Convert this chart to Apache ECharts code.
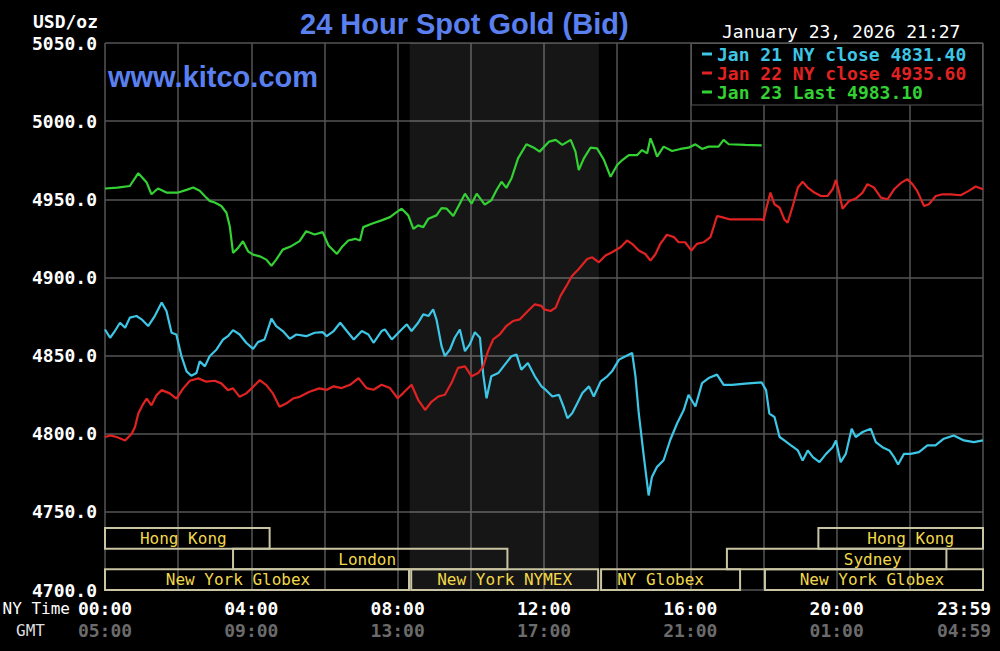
<!DOCTYPE html>
<html><head><meta charset="utf-8">
<script src="https://cdn.jsdelivr.net/npm/echarts@6/dist/echarts.min.js"></script>
<style>html,body{margin:0;padding:0;background:#000;}#c{width:1000px;height:651px;}</style>
</head><body><div id="c"></div>
<script>
// ---- data (hours NY time, USD/oz) ----
const cyanHours = [0.00,0.14,0.27,0.41,0.55,0.68,0.86,1.00,1.18,1.36,1.55,1.68,1.82,1.95,2.09,2.23,2.36,2.50,2.59,2.73,2.86,3.05,3.23,3.36,3.50,3.68,3.86,4.05,4.18,4.36,4.55,4.68,4.86,5.05,5.23,5.50,5.73,5.95,
6.06,6.25,6.43,6.61,6.80,7.02,7.20,7.34,7.56,7.65,7.84,8.02,8.25,8.38,8.56,8.70,8.84,8.97,9.06,9.20,9.29,9.43,9.56,9.70,9.84,9.97,10.11,10.25,10.34,10.43,10.56,10.75,10.93,11.11,11.25,11.38,11.56,11.75,11.93,
12.05,12.23,12.41,12.55,12.64,12.77,12.91,13.05,13.23,13.36,13.55,13.73,13.86,14.05,14.23,14.41,14.50,14.59,14.73,14.86,14.95,15.09,15.27,15.45,15.64,15.82,15.95,16.14,16.32,16.50,16.73,16.91,17.14,17.50,17.95,
18.07,18.16,18.30,18.44,18.57,18.75,18.94,19.07,19.21,19.35,19.53,19.71,19.89,19.98,20.11,20.25,20.41,20.52,20.71,20.93,21.07,21.25,21.44,21.57,21.68,21.84,22.02,22.25,22.48,22.70,22.93,23.20,23.48,23.75,24.00];
const cyanPrices = [4866.7,4861.4,4865.7,4871.0,4867.8,4874.3,4875.3,4873.2,4868.9,4875.3,4883.9,4878.5,4864.6,4863.5,4849.6,4839.9,4837.1,4838.8,4846.4,4843.1,4849.6,4853.9,4860.3,4862.4,4866.3,4863.5,4858.2,4854.3,4858.6,4860.3,4873.6,4868.9,4865.7,4860.7,4863.5,4862.4,4864.6,4865.0,
4862.4,4865.7,4871.0,4865.7,4860.3,4865.7,4863.5,4858.2,4865.7,4866.7,4860.3,4864.6,4870.0,4865.7,4871.0,4876.4,4875.3,4879.6,4873.2,4856.0,4849.6,4853.9,4861.4,4866.7,4852.8,4857.1,4865.0,4861.4,4837.8,4822.7,4836.7,4838.8,4844.2,4849.6,4850.6,4841.0,4845.3,4836.7,4830.3,
4828.0,4823.8,4824.9,4816.3,4809.9,4813.1,4819.5,4826.0,4830.3,4823.8,4833.5,4836.7,4839.9,4847.4,4849.6,4851.7,4836.7,4813.1,4785.2,4760.5,4772.3,4778.8,4783.0,4796.0,4806.7,4815.2,4824.9,4817.4,4832.4,4835.6,4837.8,4831.3,4831.3,4832.0,4832.8,
4827.9,4812.9,4810.7,4797.9,4795.7,4792.5,4789.3,4782.8,4789.3,4785.0,4781.8,4787.1,4791.4,4795.7,4781.8,4787.1,4803.2,4797.9,4801.1,4803.2,4794.6,4791.4,4789.3,4785.0,4780.3,4787.1,4787.1,4788.2,4792.5,4792.5,4796.8,4798.9,4795.7,4794.6,4795.7];

const redHours = [0.00,0.14,0.32,0.55,0.73,0.82,0.91,1.05,1.14,1.27,1.41,1.55,1.77,1.95,2.14,2.32,2.55,2.77,3.00,3.18,3.36,3.50,3.68,3.86,4.05,4.23,4.41,4.59,4.77,4.95,5.14,5.32,5.59,5.86,
6.06,6.25,6.47,6.70,6.93,7.15,7.34,7.56,7.79,8.00,8.15,8.38,8.56,8.75,8.93,9.11,9.29,9.47,9.65,9.84,10.02,10.20,10.34,10.47,10.61,10.79,10.97,11.15,11.34,11.56,11.75,11.93,
12.00,12.18,12.32,12.45,12.59,12.77,12.95,13.18,13.32,13.50,13.68,13.86,14.09,14.27,14.41,14.59,14.77,14.91,15.05,15.18,15.36,15.55,15.68,15.86,16.03,16.18,16.36,16.55,16.73,16.86,17.09,17.95,
18.00,18.07,18.19,18.30,18.44,18.57,18.66,18.80,18.94,19.07,19.21,19.39,19.57,19.75,19.89,19.98,20.07,20.16,20.34,20.52,20.71,20.84,21.02,21.21,21.39,21.57,21.75,21.93,22.07,22.20,22.39,22.52,22.71,22.89,23.11,23.39,23.61,23.80,24.00];
const redPrices = [4797.9,4798.9,4797.9,4795.7,4800.0,4804.3,4812.9,4819.3,4822.5,4818.2,4824.7,4827.9,4825.8,4822.5,4829.0,4833.9,4835.4,4833.3,4833.9,4832.2,4827.9,4829.0,4823.6,4825.8,4830.0,4834.3,4831.1,4825.8,4817.2,4819.3,4822.5,4823.6,4826.8,4829.0,
4828.1,4830.3,4829.2,4831.3,4835.6,4829.2,4828.1,4831.3,4829.2,4822.7,4826.0,4831.3,4821.7,4815.2,4820.6,4823.8,4824.9,4832.4,4842.1,4843.1,4836.7,4838.8,4843.1,4852.8,4860.3,4863.5,4868.9,4872.1,4873.2,4878.5,4882.8,4881.8,
4879.6,4878.5,4880.7,4888.2,4893.6,4901.1,4905.4,4911.8,4912.9,4909.7,4914.0,4916.1,4919.3,4923.6,4921.5,4917.2,4915.0,4910.7,4915.0,4921.5,4927.3,4925.8,4922.5,4922.5,4917.2,4921.5,4922.5,4925.8,4939.3,4938.6,4937.1,4937.1,
4936.5,4943.6,4954.3,4946.8,4944.6,4937.1,4935.0,4945.7,4957.5,4961.2,4957.5,4954.3,4952.1,4952.1,4956.4,4962.4,4954.3,4944.0,4948.9,4950.4,4954.3,4959.7,4957.5,4951.1,4950.0,4956.4,4960.3,4962.9,4959.7,4955.4,4945.7,4946.8,4952.1,4953.2,4953.2,4952.6,4955.4,4958.2,4956.4];

const greenHours = [0.00,0.34,0.68,0.91,1.14,1.27,1.45,1.68,2.00,2.23,2.41,2.59,2.73,2.86,3.00,3.18,3.32,3.41,3.50,3.64,3.77,3.91,4.05,4.23,4.41,4.55,4.68,4.86,5.09,5.32,5.50,5.73,5.95,
6.11,6.34,6.47,6.65,6.84,6.97,7.06,7.29,7.56,7.79,7.97,8.11,8.29,8.43,8.56,8.70,8.84,9.06,9.20,9.34,9.52,9.65,9.84,10.02,10.16,10.38,10.56,10.70,10.84,10.97,11.11,11.29,11.52,11.75,11.88,
12.14,12.32,12.50,12.73,12.86,12.95,13.09,13.27,13.45,13.64,13.82,14.00,14.14,14.32,14.55,14.68,14.82,14.91,15.00,15.09,15.27,15.50,15.73,15.95,16.14,16.32,16.50,16.77,16.91,17.05,17.50,17.95];
const greenPrices = [4956.9,4957.5,4958.5,4966.7,4960.7,4953.2,4956.9,4954.3,4954.3,4956.0,4957.5,4955.4,4952.0,4949.0,4947.9,4945.7,4941.4,4932.8,4915.7,4918.9,4923.2,4916.7,4914.6,4913.5,4911.4,4907.5,4911.4,4917.8,4920.0,4923.2,4929.6,4927.5,4929.0,
4920.4,4915.0,4919.3,4923.6,4924.7,4923.6,4932.2,4934.3,4936.5,4938.6,4941.8,4944.0,4939.7,4931.1,4933.3,4932.2,4937.6,4939.7,4944.4,4944.0,4939.3,4945.0,4953.6,4947.2,4953.6,4946.6,4949.4,4955.8,4961.2,4957.3,4963.3,4976.2,4985.2,4982.6,4980.5,
4986.9,4988.0,4984.8,4988.0,4980.5,4968.7,4976.2,4983.0,4982.6,4975.1,4964.4,4971.9,4975.1,4978.3,4978.3,4981.5,4979.4,4989.0,4983.7,4977.3,4983.7,4980.9,4982.2,4983.0,4985.2,4982.2,4983.7,4983.7,4988.0,4985.2,4984.8,4984.5];

const seriesNames = ['Jan 21 NY close 4831.40','Jan 22 NY close 4935.60','Jan 23 Last 4983.10'];

const tickHours = [0,4,8,12,16,20,24];
const nyTickLabels = ['00:00','04:00','08:00','12:00','16:00','20:00','23:59'];
const gmtTickLabels = ['05:00','09:00','13:00','17:00','21:00','01:00','04:59'];

const sessionNames = ['Hong Kong','Hong Kong','London','Sydney','New York Globex','New York NYMEX','NY Globex','New York Globex'];
const sessionStart = [0,19.5,3.5,17.0,0,8.37,13.56,18.04];
const sessionEnd   = [4.5,24,11.0,23.0,8.31,13.48,17.36,24];
const sessionRow   = [2,2,1,1,0,0,0,0];

const comexOpen = 8.33, comexClose = 13.5;

// ---- styles ----
const MONO = '"DejaVu Sans Mono", monospace';
const COLORS = ['#3ec6e6','#e02222','#33d133'];
const labelShift = [-4,10,-3,36,-19,0,-10,-2];

const chart = echarts.init(document.getElementById('c'), null, {renderer:'svg'});

function zip(h, p){ return h.map((t,i)=>[t,p[i]]); }

function renderSession(params, api){
  const i = params.dataIndex;
  const p0 = api.coord([api.value(0), api.value(2)+1]);
  const p1 = api.coord([api.value(1), api.value(2)]);
  return {type:'group', children:[
    {type:'rect', shape:{x:p0[0], y:p0[1], width:p1[0]-p0[0], height:p1[1]-p0[1]},
     style:{fill:'none', stroke:'#c9c5a2', lineWidth:2}},
    {type:'text', style:{text:sessionNames[i], x:(p0[0]+p1[0])/2+labelShift[i], y:(p0[1]+p1[1])/2,
     align:'center', verticalAlign:'middle', fill:'#f2d84a', font:'16px '+MONO}}
  ]};
}

const tickRich = {
  n:{color:'#ffffff', fontWeight:'bold', fontSize:18, fontFamily:MONO, lineHeight:22},
  g:{color:'#6b6b6b', fontWeight:'bold', fontSize:18, fontFamily:MONO, lineHeight:22},
  ne:{color:'#ffffff', fontWeight:'bold', fontSize:18, fontFamily:MONO, lineHeight:22, padding:[0,38,0,0]},
  ge:{color:'#6b6b6b', fontWeight:'bold', fontSize:18, fontFamily:MONO, lineHeight:22, padding:[0,38,0,0]}
};

const option = {
  backgroundColor:'#000',
  animation:false,
  title:[
    {text:'24 Hour Spot Gold (Bid)', left:300, top:9, padding:0,
     textStyle:{color:'#5a80f0', fontSize:29, fontWeight:'bold', fontFamily:'"Liberation Sans", Arial, sans-serif'}},
    {text:'www.kitco.com', left:108, top:62, padding:0,
     textStyle:{color:'#5a80f0', fontSize:29, fontWeight:'bold', fontFamily:'"Liberation Sans", Arial, sans-serif'}},
    {text:'January 23, 2026 21:27', left:722, top:22, padding:0,
     textStyle:{color:'#ffffff', fontSize:18, fontWeight:'normal', fontFamily:MONO}}
  ],
  legend:{
    orient:'vertical', left:702, top:45, padding:0, itemGap:1, itemWidth:10, itemHeight:3, icon:'rect',
    selectedMode:false, z:20,
    textStyle:{fontFamily:MONO, fontSize:18, fontWeight:'bold'},
    data: seriesNames.map((n,i)=>({name:n, textStyle:{color:COLORS[i]}}))
  },
  graphic:[
    {type:'rect', z:10, shape:{x:691.5, y:43.5, width:291, height:61.5}, style:{fill:'#000', stroke:'#555', lineWidth:1}},
    {type:'text', z:10, style:{text:'USD/oz', x:98, y:21, align:'right', verticalAlign:'middle', fill:'#fff', font:'bold 18px '+MONO}},
    {type:'text', z:10, style:{text:'NY Time', x:70, y:608, align:'right', verticalAlign:'middle', fill:'#fff', font:'16px '+MONO}},
    {type:'text', z:10, style:{text:'GMT', x:45, y:630, align:'right', verticalAlign:'middle', fill:'#dddddd', font:'16px '+MONO}}
  ],
  grid:[
    {left:105, top:43, width:878, height:547, outerBoundsMode:'none', containLabel:false},
    {left:105, top:528, width:878, height:62, outerBoundsMode:'none', containLabel:false}
  ],
  xAxis:[
    {type:'value', gridIndex:0, min:0, max:24, interval:2,
     axisLine:{show:false}, axisTick:{show:false},
     splitLine:{show:true, lineStyle:{color:'#555', width:1.5}},
     axisLabel:{margin:7, showMinLabel:true, showMaxLabel:true, rich:tickRich,
       formatter:v=>{ const i = tickHours.indexOf(v); if(i<0) return '';
         const s = (v===24)?'e':''; return '{n'+s+'|'+nyTickLabels[i]+'}\n{g'+s+'|'+gmtTickLabels[i]+'}'; }}},
    {type:'value', gridIndex:1, min:0, max:24, show:false}
  ],
  yAxis:[
    {type:'value', gridIndex:0, min:4700, max:5050, interval:50,
     axisLine:{show:false}, axisTick:{show:false},
     splitLine:{show:true, lineStyle:{color:'#555', width:1.5}},
     axisLabel:{margin:8, color:'#fff', fontFamily:MONO, fontSize:18, fontWeight:'bold', formatter:v=>v.toFixed(1)}},
    {type:'value', gridIndex:1, min:0, max:3, show:false}
  ],
  series:[
    {name:seriesNames[0], type:'line', data:zip(cyanHours,cyanPrices), showSymbol:false, z:3,
     lineStyle:{color:COLORS[0], width:2.2}, itemStyle:{color:COLORS[0]},
     markArea:{silent:true, itemStyle:{color:'rgba(255,255,255,0.085)'},
       data:[[{xAxis:comexOpen},{xAxis:comexClose}]]}},
    {name:seriesNames[1], type:'line', data:zip(redHours,redPrices), showSymbol:false, z:3,
     lineStyle:{color:COLORS[1], width:2.2}, itemStyle:{color:COLORS[1]}},
    {name:seriesNames[2], type:'line', data:zip(greenHours,greenPrices), showSymbol:false, z:3,
     lineStyle:{color:COLORS[2], width:2.2}, itemStyle:{color:COLORS[2]}},
    {name:'sessions', type:'custom', xAxisIndex:1, yAxisIndex:1, silent:true, z:4,
     renderItem:renderSession,
     data: sessionStart.map((s,i)=>[s, sessionEnd[i], sessionRow[i]])}
  ]
};
chart.setOption(option);
</script>
</body></html>
